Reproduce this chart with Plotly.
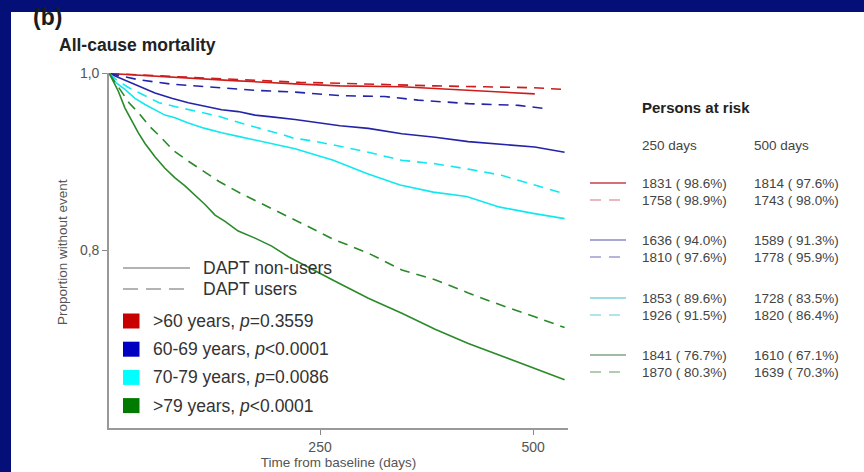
import plotly.graph_objects as go

# ---------------- data ----------------
# Kaplan-Meier curves: time (days) and proportion without event
t_gt79_non = [2.7, 13.3, 21.1, 29, 36.8, 44.6, 56.3, 68, 79.8, 91.5, 103, 115, 126.8, 138.5, 154, 173.7,
              193.3, 212.8, 266, 306.7, 346, 385, 424, 463, 502, 537]
s_gt79_non = [1.0, 0.980, 0.961, 0.946, 0.933, 0.921, 0.906, 0.893, 0.882, 0.873, 0.863, 0.852, 0.840, 0.833,
              0.822, 0.814, 0.805, 0.793, 0.766, 0.746, 0.729, 0.711, 0.695, 0.681, 0.667, 0.654]

t_gt79_users = [2.7, 13.3, 25.8, 37.6, 49.3, 64.2, 77.8, 95.4, 111, 131.5, 156, 177.6, 197, 216.8, 230, 265,
                306.7, 346, 385, 424, 463, 502, 537]
s_gt79_users = [1.0, 0.985, 0.967, 0.955, 0.941, 0.927, 0.913, 0.901, 0.891, 0.878, 0.865, 0.855, 0.846, 0.837,
                0.830, 0.813, 0.797, 0.778, 0.767, 0.752, 0.738, 0.725, 0.713]

t_7079_non = [2.7, 10, 21.1, 32.9, 44.6, 56.3, 68, 79.8, 95.4, 115, 134.6, 154, 173.7, 193.3, 220.7, 265.6,
              304.8, 344, 383, 422, 461, 500, 537]
s_7079_non = [1.0, 0.990, 0.982, 0.972, 0.965, 0.959, 0.953, 0.950, 0.944, 0.938, 0.933, 0.929, 0.925, 0.921,
              0.915, 0.902, 0.887, 0.874, 0.866, 0.861, 0.849, 0.842, 0.836]

t_7079_users = [2.7, 12, 25.8, 41.5, 61, 83, 106.5, 130, 157, 180.8, 205.8, 218.7, 240, 267.6, 306.7, 346,
                385, 424, 463, 502, 537]
s_7079_users = [1.0, 0.992, 0.984, 0.976, 0.967, 0.962, 0.957, 0.952, 0.944, 0.938, 0.931, 0.927, 0.924, 0.919,
                0.911, 0.902, 0.898, 0.892, 0.885, 0.874, 0.864]

t_6069_non = [2.7, 17.2, 29, 40.7, 56.3, 76, 95.4, 115, 134.6, 154, 173.7, 193.3, 220.7, 273.5, 306.7, 346,
              385, 424, 463, 502, 537]
s_6069_non = [1.0, 0.994, 0.989, 0.984, 0.978, 0.972, 0.967, 0.963, 0.959, 0.957, 0.953, 0.951, 0.948, 0.941,
              0.938, 0.932, 0.928, 0.923, 0.920, 0.917, 0.911]

t_6069_users = [2.7, 36.8, 76, 115, 173.7, 220.7, 273.5, 326, 365, 424, 483, 518]
s_6069_users = [1.0, 0.993, 0.988, 0.985, 0.981, 0.979, 0.975, 0.974, 0.970, 0.966, 0.964, 0.960]

t_lt60_non = [2.7, 70, 148, 226.5, 273.5, 346, 424, 463, 502]
s_lt60_non = [1.0, 0.996, 0.992, 0.988, 0.986, 0.985, 0.981, 0.979, 0.977]

t_lt60_users = [2.7, 70, 148, 226.5, 273.5, 335, 385, 443.7, 500, 537]
s_lt60_users = [1.0, 0.997, 0.993, 0.990, 0.989, 0.987, 0.986, 0.985, 0.984, 0.982]

# legend / labels
group_labels = [">60 years, <i>p</i>=0.3559", "60-69 years, <i>p</i><0.0001",
                "70-79 years, <i>p</i>=0.0086", ">79 years, <i>p</i><0.0001"]
group_colors = ["#c80000", "#0000c0", "#00ffff", "#007a00"]
line_colors = ["#cc1c1c", "#2424a8", "#10e8f0", "#2a8a2a"]

x_ticks = [250, 500]
y_ticks = [0.8, 1.0]
y_ticktext = ["0,8", "1,0"]

# persons at risk table
risk_250 = ["1831 ( 98.6%)", "1758 ( 98.9%)", "1636 ( 94.0%)", "1810 ( 97.6%)",
            "1853 ( 89.6%)", "1926 ( 91.5%)", "1841 ( 76.7%)", "1870 ( 80.3%)"]
risk_500 = ["1814 ( 97.6%)", "1743 ( 98.0%)", "1589 ( 91.3%)", "1778 ( 95.9%)",
            "1728 ( 83.5%)", "1820 ( 86.4%)", "1610 ( 67.1%)", "1639 ( 70.3%)"]
risk_line_colors = ["#c4404e", "#e2a0a8", "#8a8ac8", "#9c9cd2",
                    "#7ed2da", "#96dce2", "#80a480", "#98bc98"]

# ---------------- layout geometry ----------------
W, H = 864, 472
L, R, T, B = 109, 296, 73, 44
PW, PH = W - L - R, H - T - B

def px(x):
    return (x - L) / PW

def py(y):
    return (H - B - y) / PH

FONT = "Arial, Liberation Sans, sans-serif"
NAVY = "#040f78"

fig = go.Figure()

curves = [
    (t_lt60_non, s_lt60_non, 0, "solid"),
    (t_lt60_users, s_lt60_users, 0, "10px,7px"),
    (t_6069_non, s_6069_non, 1, "solid"),
    (t_6069_users, s_6069_users, 1, "10px,7px"),
    (t_7079_non, s_7079_non, 2, "solid"),
    (t_7079_users, s_7079_users, 2, "10px,7px"),
    (t_gt79_non, s_gt79_non, 3, "solid"),
    (t_gt79_users, s_gt79_users, 3, "10px,7px"),
]
for tt, ss, gi, dash in curves:
    fig.add_trace(go.Scatter(x=tt, y=ss, mode="lines",
                             line=dict(color=line_colors[gi], width=1.6, dash=dash),
                             showlegend=False, hoverinfo="skip"))

shapes = []
annotations = []

# white panel on navy background
shapes.append(dict(type="rect", xref="paper", yref="paper", layer="below",
                   x0=px(11), x1=px(870), y0=py(480), y1=py(12),
                   fillcolor="white", line=dict(width=0)))

# figure labels
annotations.append(dict(text="<b>(b)</b>", xref="paper", yref="paper", x=px(31), y=py(17),
                        xanchor="left", yanchor="middle", showarrow=False,
                        font=dict(family=FONT, size=23, color="#1a1a1a")))
annotations.append(dict(text="<b>All-cause mortality</b>", xref="paper", yref="paper",
                        x=px(57), y=py(45), xanchor="left", yanchor="middle", showarrow=False,
                        font=dict(family=FONT, size=17.5, color="#222222")))
annotations.append(dict(text="Proportion without event", xref="paper", yref="paper",
                        x=px(62), y=py(252), xanchor="center", yanchor="middle", showarrow=False,
                        textangle=-90, font=dict(family=FONT, size=13.5, color="#555555")))

# in-plot legend
shapes.append(dict(type="line", xref="paper", yref="paper", x0=px(123), x1=px(190),
                   y0=py(268), y1=py(268), line=dict(color="#9a9a9a", width=1.6)))
shapes.append(dict(type="line", xref="paper", yref="paper", x0=px(123), x1=px(190),
                   y0=py(289), y1=py(289), line=dict(color="#9a9a9a", width=1.6, dash="15px,8px")))
annotations.append(dict(text="DAPT non-users", xref="paper", yref="paper", x=px(201), y=py(268),
                        xanchor="left", yanchor="middle", showarrow=False,
                        font=dict(family=FONT, size=17.5, color="#333333")))
annotations.append(dict(text="DAPT users", xref="paper", yref="paper", x=px(201), y=py(289),
                        xanchor="left", yanchor="middle", showarrow=False,
                        font=dict(family=FONT, size=17.5, color="#333333")))
for i, (lab, col) in enumerate(zip(group_labels, group_colors)):
    yc = 321 + i * 28.2
    shapes.append(dict(type="rect", xref="paper", yref="paper", x0=px(123), x1=px(139.5),
                       y0=py(yc + 7.5), y1=py(yc - 7.5), fillcolor=col, line=dict(width=0)))
    annotations.append(dict(text=lab, xref="paper", yref="paper", x=px(151), y=py(yc),
                            xanchor="left", yanchor="middle", showarrow=False,
                            font=dict(family=FONT, size=17.5, color="#333333")))

# persons at risk panel
annotations.append(dict(text="<b>Persons at risk</b>", xref="paper", yref="paper", x=px(640), y=py(107),
                        xanchor="left", yanchor="middle", showarrow=False,
                        font=dict(family=FONT, size=15, color="#222222")))
annotations.append(dict(text="250 days", xref="paper", yref="paper", x=px(640), y=py(145),
                        xanchor="left", yanchor="middle", showarrow=False,
                        font=dict(family=FONT, size=13.5, color="#444444")))
annotations.append(dict(text="500 days", xref="paper", yref="paper", x=px(752), y=py(145),
                        xanchor="left", yanchor="middle", showarrow=False,
                        font=dict(family=FONT, size=13.5, color="#444444")))
row_y = [183, 200, 240, 257, 298, 315, 355, 372]
for i in range(8):
    yy = row_y[i]
    dash = "solid" if i % 2 == 0 else "11px,8px"
    shapes.append(dict(type="line", xref="paper", yref="paper", x0=px(590), x1=px(626),
                       y0=py(yy), y1=py(yy), line=dict(color=risk_line_colors[i], width=1.3, dash=dash)))
    annotations.append(dict(text=risk_250[i], xref="paper", yref="paper", x=px(640), y=py(yy),
                            xanchor="left", yanchor="middle", showarrow=False,
                            font=dict(family=FONT, size=13.5, color="#444444")))
    annotations.append(dict(text=risk_500[i], xref="paper", yref="paper", x=px(752), y=py(yy),
                            xanchor="left", yanchor="middle", showarrow=False,
                            font=dict(family=FONT, size=13.5, color="#444444")))

fig.update_layout(
    width=W, height=H,
    margin=dict(l=L, r=R, t=T, b=B, autoexpand=False),
    paper_bgcolor=NAVY, plot_bgcolor="white",
    shapes=shapes, annotations=annotations,
    showlegend=False,
    xaxis=dict(range=[2.35, 541], tickvals=x_ticks, ticks="outside", ticklen=5,
               tickcolor="#888888", tickwidth=1.2,
               showline=True, linecolor="#999999", linewidth=1.6, showgrid=False, zeroline=False,
               tickfont=dict(family=FONT, size=14, color="#555555"),
               title=dict(text="Time from baseline (days)", standoff=4,
                          font=dict(family=FONT, size=13.5, color="#555555"))),
    yaxis=dict(range=[0.5994, 1.0006], tickvals=y_ticks, ticktext=y_ticktext, ticks="outside",
               ticklen=5, tickcolor="#888888", tickwidth=1.2,
               showline=True, linecolor="#999999", linewidth=1.6, showgrid=False, zeroline=False,
               tickfont=dict(family=FONT, size=14, color="#555555")),
)

fig.write_html("out.html")
